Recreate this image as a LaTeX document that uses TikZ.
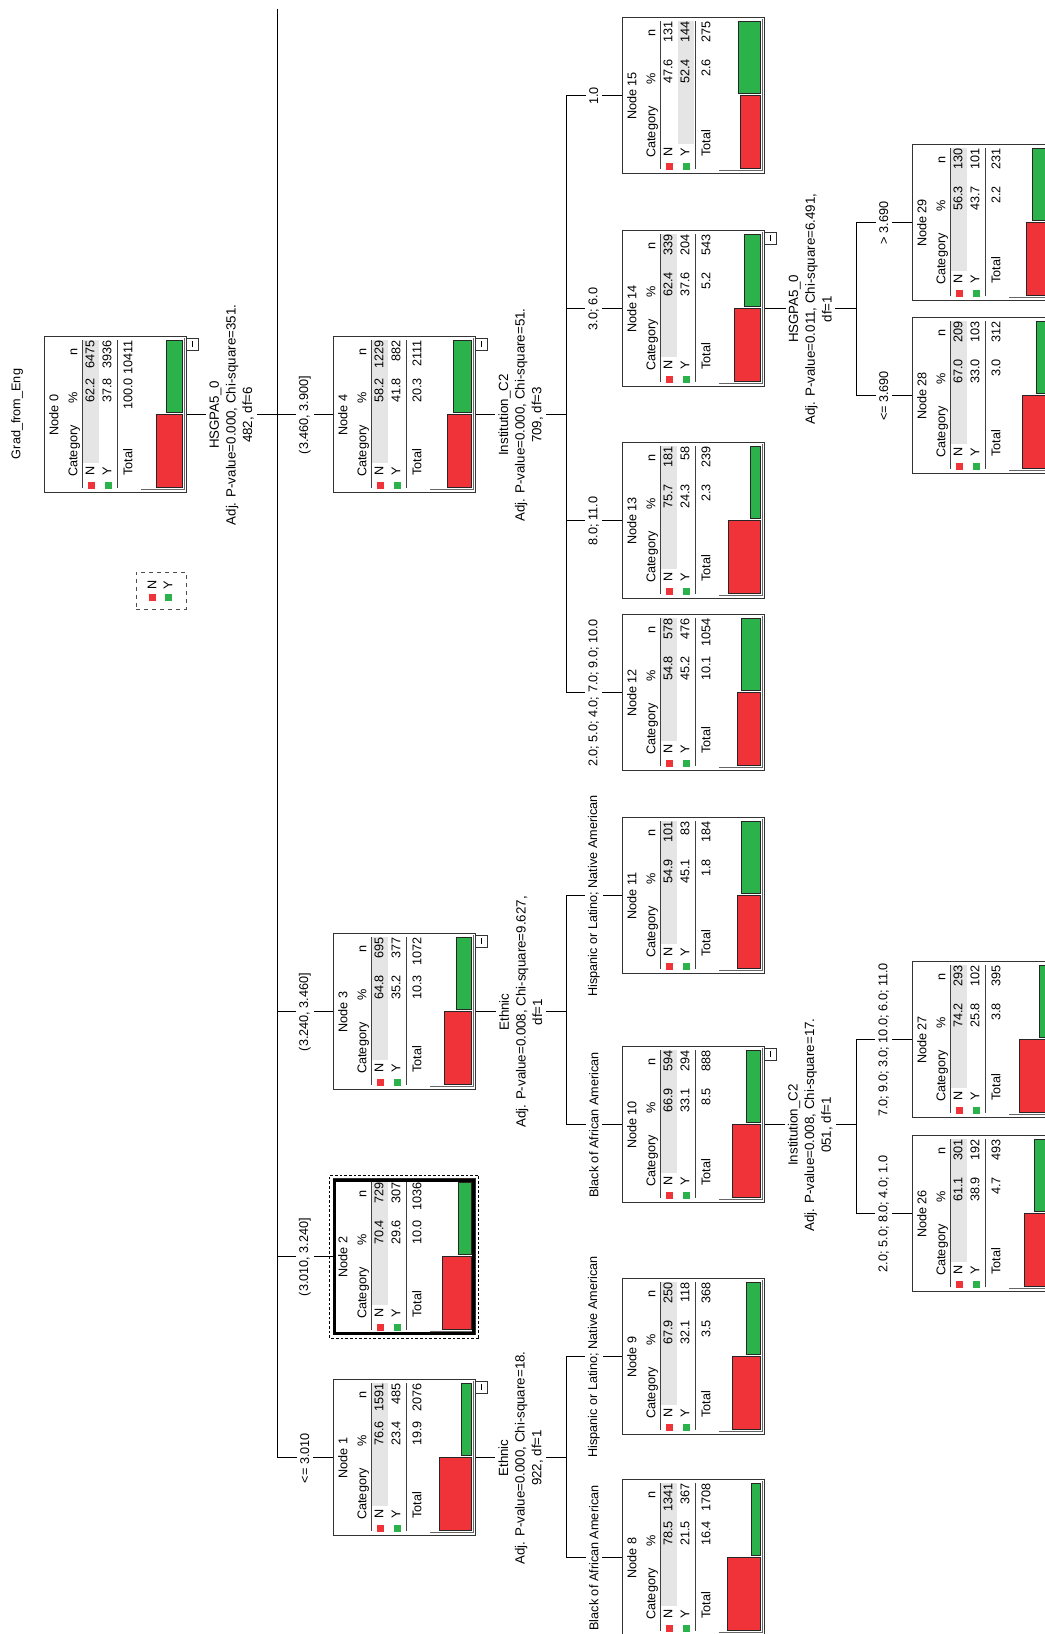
\documentclass[tikz,border=0pt]{standalone}
\usepackage{fontspec}
\setmainfont{Liberation Sans}
\definecolor{catN}{RGB}{239,51,56}
\definecolor{catY}{RGB}{44,178,74}
\definecolor{modalrow}{RGB}{229,229,229}

% one SPSS node: id, centre, N%, N n, Y%, Y n, total %, total n, extras
\newcommand\catnode[9]{%
  \begin{scope}[shift={(#2)}]
    \ifdim #5pt>#3pt
      \fill[modalrow] (-48,-1) rectangle (75,15);
    \else
      \fill[modalrow] (-48,16) rectangle (75,32);
    \fi
    \node[nodebox] (n#1) at (0,0) {};
    \node[cell] at (0,60) {Node #1};
    \node[cell, anchor=west] at (-62,41) {Category};
    \node[cell] at (17,41) {\%};
    \node[cell] at (63,41) {n};
    \draw[rule] (-73,33) -- (75,33);
    \fill[catN] (-74,20.5) rectangle (-67,27.5);
    \node[cell, anchor=west] at (-61,24) {N};
    \node[cell, anchor=east] at (37,24) {#3};
    \node[cell, anchor=east] at (75,24) {#4};
    \fill[catY] (-74,3.5) rectangle (-67,10.5);
    \node[cell, anchor=west] at (-61,7) {Y};
    \node[cell, anchor=east] at (37,7) {#5};
    \node[cell, anchor=east] at (75,7) {#6};
    \draw[rule] (-73,-2) -- (75,-2);
    \node[cell, anchor=west] at (-61,-14) {Total};
    \node[cell, anchor=east] at (37,-14) {#7};
    \node[cell, anchor=east] at (75,-14) {#8};
    \draw[barN] (-73,-67) rectangle (0,{-67+0.41*#3});
    \draw[barY] (2,-67) rectangle (74,{-67+0.41*#5});
    \draw[chartaxis] (-75,-26) -- (-75,-69) -- (77,-69);
    #9
  \end{scope}}
\newcommand\minusbtn{%
  \draw[fill=white, draw=black!80, line width=0.6pt] (65,-71) rectangle (77,-83);
  \draw[line width=0.6pt] (68,-77) -- (74,-77);}
\newcommand\selframe{%
  \draw[line width=1.6pt] (-76.5,-69.5) rectangle (76.5,69.5);
  \draw[dashed, dash pattern=on 2pt off 1.5pt, line width=0.5pt] (-81.5,-74.5) rectangle (81.5,74.5);}

\begin{document}
\begin{tikzpicture}[
  x=0.75pt, y=0.75pt,
  every node/.style={font=\fontsize{9.5}{11}\selectfont, inner sep=0pt},
  nodebox/.style={draw=black!80, line width=0.75pt, minimum width=117pt, minimum height=106.5pt},
  cell/.style={text height=7pt, text depth=2pt},
  rule/.style={draw=black!75, line width=0.75pt},
  barN/.style={fill=catN, draw=black!85, line width=0.75pt},
  barY/.style={fill=catY, draw=black!85, line width=0.75pt},
  chartaxis/.style={draw=black!60, line width=0.75pt},
  link/.style={draw=black, line width=0.75pt},
  splitlbl/.style={fill=white, align=center, inner xsep=1pt, inner ysep=2.5pt,
    font=\fontsize{10}{12.5}\selectfont},
  branchlbl/.style={fill=white, inner xsep=1pt, inner ysep=2.5pt}
]
\fill[white] (0,0) rectangle (1045,1634);
\useasboundingbox (0,0) rectangle (1045,1634);
\begin{scope}[rotate=90, transform shape]
  \node (title) at (1220,-17) {Grad\_from\_Eng};

  \draw[dashed, draw=black!70, line width=0.6pt] (1025,-136) rectangle (1062,-186);
  \fill[catN] (1032.5,-148.5) rectangle (1039.5,-155.5);
  \fill[catY] (1032.5,-164.5) rectangle (1039.5,-171.5);
  \node (keyN) at (1049,-152) {N};
  \node (keyY) at (1049,-168) {Y};

  \catnode{0}{1219,-115}{62.2}{6475}{37.8}{3936}{100.0}{10411}{\minusbtn}
  \catnode{1}{176,-404}{76.6}{1591}{23.4}{485}{19.9}{2076}{\minusbtn}
  \catnode{2}{377,-404}{70.4}{729}{29.6}{307}{10.0}{1036}{\selframe}
  \catnode{3}{622,-404}{64.8}{695}{35.2}{377}{10.3}{1072}{\minusbtn}
  \catnode{4}{1219,-404}{58.2}{1229}{41.8}{882}{20.3}{2111}{\minusbtn}
  \catnode{8}{76,-693}{78.5}{1341}{21.5}{367}{16.4}{1708}{}
  \catnode{9}{277,-693}{67.9}{250}{32.1}{118}{3.5}{368}{}
  \catnode{10}{509,-693}{66.9}{594}{33.1}{294}{8.5}{888}{\minusbtn}
  \catnode{11}{738,-693}{54.9}{101}{45.1}{83}{1.8}{184}{}
  \catnode{12}{941,-693}{54.8}{578}{45.2}{476}{10.1}{1054}{}
  \catnode{13}{1113,-693}{75.7}{181}{24.3}{58}{2.3}{239}{}
  \catnode{14}{1325,-693}{62.4}{339}{37.6}{204}{5.2}{543}{\minusbtn}
  \catnode{15}{1538,-693}{47.6}{131}{52.4}{144}{2.6}{275}{}
  \catnode{26}{420,-983}{61.1}{301}{38.9}{192}{4.7}{493}{}
  \catnode{27}{594,-983}{74.2}{293}{25.8}{102}{3.8}{395}{}
  \catnode{28}{1238,-983}{67.0}{209}{33.0}{103}{3.0}{312}{}
  \catnode{29}{1411,-983}{56.3}{130}{43.7}{101}{2.2}{231}{}

  \coordinate (b0) at (1625,-277);
  \coordinate (b1) at (176,-566);
  \coordinate (b3) at (622,-566);
  \coordinate (b4) at (1219,-566);
  \coordinate (b10) at (509,-856);
  \coordinate (b14) at (1325,-856);

  \draw[link] (n0.south) -- node[splitlbl] {HSGPA5\_0\\Adj. P-value=0.000, Chi-square=351.\\482, df=6} (n0.south |- b0);
  \draw[link] (n1.south) -- node[splitlbl] {Ethnic\\Adj. P-value=0.000, Chi-square=18.\\922, df=1} (n1.south |- b1);
  \draw[link] (n3.south) -- node[splitlbl] {Ethnic\\Adj. P-value=0.008, Chi-square=9.627,\\df=1} (n3.south |- b3);
  \draw[link] (n4.south) -- node[splitlbl] {Institution\_C2\\Adj. P-value=0.000, Chi-square=51.\\709, df=3} (n4.south |- b4);
  \draw[link] (n10.south) -- node[splitlbl] {Institution\_C2\\Adj. P-value=0.008, Chi-square=17.\\051, df=1} (n10.south |- b10);
  \draw[link] (n14.south) -- node[splitlbl] {HSGPA5\_0\\Adj. P-value=0.011, Chi-square=6.491,\\df=1} (n14.south |- b14);

  \draw[link] (b0) -- (n1.north |- b0);
  \draw[link] (n9.north |- b1) -- (n8.north |- b1);
  \draw[link] (n11.north |- b3) -- (n10.north |- b3);
  \draw[link] (n15.north |- b4) -- (n12.north |- b4);
  \draw[link] (n27.north |- b10) -- (n26.north |- b10);
  \draw[link] (n29.north |- b14) -- (n28.north |- b14);

  \foreach \k/\txt in {1/{<= 3.010}, 2/{(3.010, 3.240]}, 3/{(3.240, 3.460]}, 4/{(3.460, 3.900]}}
    \draw[link] (n\k.north |- b0) -- node[branchlbl] {\txt} (n\k.north);
  \foreach \k/\txt in {8/{Black of African American}, 9/{Hispanic or Latino; Native American}}
    \draw[link] (n\k.north |- b1) -- node[branchlbl] {\txt} (n\k.north);
  \foreach \k/\txt in {10/{Black of African American}, 11/{Hispanic or Latino; Native American}}
    \draw[link] (n\k.north |- b3) -- node[branchlbl] {\txt} (n\k.north);
  \foreach \k/\txt in {12/{2.0; 5.0; 4.0; 7.0; 9.0; 10.0}, 13/{8.0; 11.0}, 14/{3.0; 6.0}, 15/{1.0}}
    \draw[link] (n\k.north |- b4) -- node[branchlbl] {\txt} (n\k.north);
  \foreach \k/\txt in {26/{2.0; 5.0; 8.0; 4.0; 1.0}, 27/{7.0; 9.0; 3.0; 10.0; 6.0; 11.0}}
    \draw[link] (n\k.north |- b10) -- node[branchlbl] {\txt} (n\k.north);
  \foreach \k/\txt in {28/{<= 3.690}, 29/{> 3.690}}
    \draw[link] (n\k.north |- b14) -- node[branchlbl] {\txt} (n\k.north);
\end{scope}
\end{tikzpicture}
\end{document}
